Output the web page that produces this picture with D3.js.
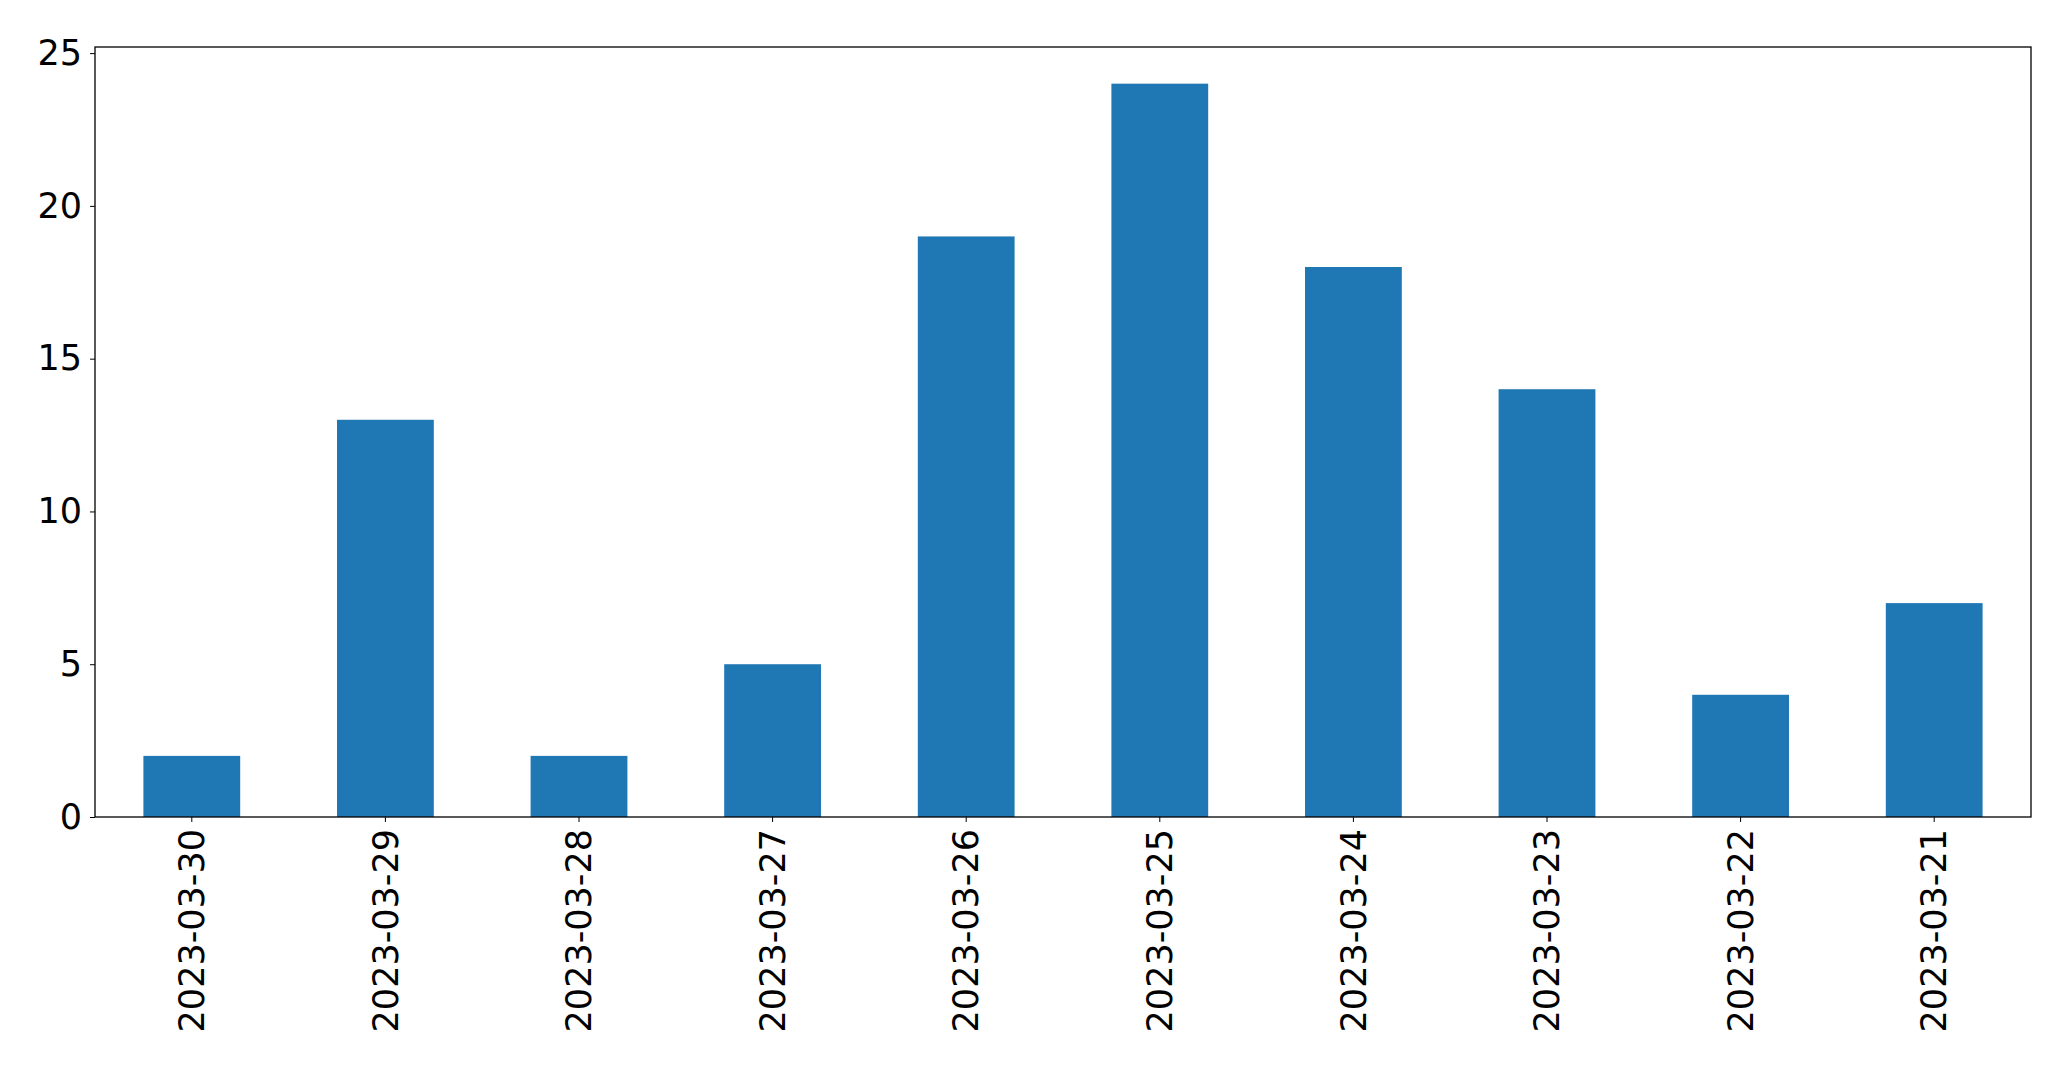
<!DOCTYPE html>
<html>
<head>
<meta charset="utf-8">
<script src="https://cdn.jsdelivr.net/npm/d3@7"></script>
<style>
  body { margin: 0; background: #fff; }
  svg text { font-family: "DejaVu Sans", sans-serif; fill: #000; }
</style>
</head>
<body>
<svg id="chart" width="2071" height="1069"></svg>
<script>
// Chart data
var dates = ["2023-03-30", "2023-03-29", "2023-03-28", "2023-03-27", "2023-03-26",
             "2023-03-25", "2023-03-24", "2023-03-23", "2023-03-22", "2023-03-21"];
var counts = [2, 13, 2, 5, 19, 24, 18, 14, 4, 7];
var yTicks = [0, 5, 10, 15, 20, 25];

var chart = [];
chart.width = 2071;
chart.height = 1069;

chart.draw = () => {
	let svg = d3.select("#chart");
	let margin = {top: 47, right: 40, bottom: 252, left: 95},
		iwidth = chart.width - margin.left - margin.right,
		iheight = chart.height - margin.top - margin.bottom;

	let g = svg.append("g")
		.attr("transform", "translate(" + margin.left + "," + margin.top + ")");

	// Scales (pandas style: 5% headroom above max, band padding 0.5)
	let x = d3.scaleBand()
			.domain(dates)
			.range([0, iwidth])
			.paddingInner(0.5)
			.paddingOuter(0.25),
		y = d3.scaleLinear()
			.domain([0, d3.max(counts) * 1.05])
			.range([iheight, 0]);

	// Bars
	g.selectAll(".bar")
		.data(counts)
		.enter()
		.append("rect")
		.attr("class", "bar")
		.attr("x", (d, i) => x(dates[i]))
		.attr("y", d => y(d))
		.attr("width", x.bandwidth())
		.attr("height", d => iheight - y(d))
		.style("fill", "#1f77b4");

	// Y axis
	let yAxis = g.append("g")
		.call(d3.axisLeft(y).tickValues(yTicks).tickSize(5).tickPadding(8));
	yAxis.select(".domain").remove();
	yAxis.selectAll("text").style("font-size", "35px");

	// X axis
	let xAxis = g.append("g")
		.attr("transform", "translate(0," + iheight + ")")
		.call(d3.axisBottom(x).tickSize(5).tickSizeOuter(0));
	xAxis.select(".domain").remove();
	xAxis.selectAll("text")
		.style("font-size", "35px")
		.attr("text-anchor", "end")
		.attr("dy", "0.35em")
		.attr("transform", "translate(0,12) rotate(-90)")
		.attr("x", 0)
		.attr("y", 0);

	// Frame
	g.append("rect")
		.attr("x", 0)
		.attr("y", 0)
		.attr("width", iwidth)
		.attr("height", iheight)
		.style("fill", "none")
		.style("stroke", "#000")
		.style("stroke-width", 1.3);
}

chart.draw();
</script>
</body>
</html>
